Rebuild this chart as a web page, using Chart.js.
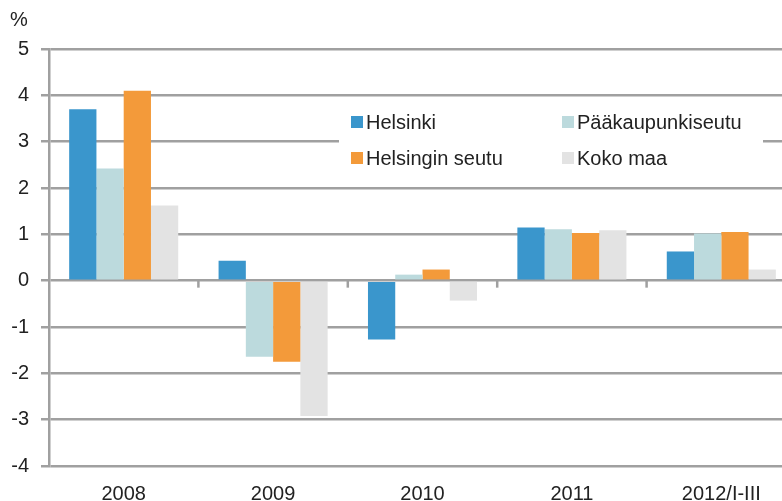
<!DOCTYPE html>
<html>
<head>
<meta charset="utf-8">
<script src="https://cdn.jsdelivr.net/npm/chart.js@4/dist/chart.umd.min.js"></script>
<style>
  html, body { margin: 0; padding: 0; background: #fff; overflow: hidden; }
  #wrap { width: 782px; height: 501px; overflow: hidden; }
</style>
</head>
<body>
<div id="wrap"><canvas id="bar-chart" width="796" height="501"></canvas></div>
<script>
// periods on the x axis
var periods = ["2008", "2009", "2010", "2011", "2012/I-III"];

// annual change, %
var helsinki = [3.7, 0.43, -1.27, 1.15, 0.63];
var paakaupunkiseutu = [2.42, -1.64, 0.13, 1.11, 1.02];
var helsinginSeutu = [4.1, -1.75, 0.24, 1.03, 1.05];
var kokoMaa = [1.62, -2.92, -0.43, 1.09, 0.24];

var seriesNames = ["Helsinki", "Pääkaupunkiseutu", "Helsingin seutu", "Koko maa"];
var seriesColors = ["#3a96cc", "#bcdadd", "#f39a3a", "#e3e3e3"];

var yTicks = [-4, -3, -2, -1, 0, 1, 2, 3, 4, 5];

var FONT = "'Liberation Sans', Arial, sans-serif";
var GRID = "#a0a0a0";
var TEXT = "#222222";

document.addEventListener("DOMContentLoaded", function () {
    var ctx = document.getElementById("bar-chart").getContext("2d");

    var allSeries = [helsinki, paakaupunkiseutu, helsinginSeutu, kokoMaa];
    var datasets = allSeries.map(function (values, i) {
        return {
            label: seriesNames[i],
            data: values,
            backgroundColor: seriesColors[i],
            borderWidth: 0,
            categoryPercentage: 0.73,
            barPercentage: 1.0
        };
    });

    // "%" unit, tick marks on the zero line and the boxed legend
    var extras = {
        id: "extras",
        afterDatasetsDraw: function (chart) {
            var c = chart.ctx;
            var area = chart.chartArea;
            var y = chart.scales.y;
            var zero = y.getPixelForValue(0);

            c.save();
            // ticks between categories on the zero line
            c.strokeStyle = GRID;
            c.lineWidth = 2.5;
            var step = (area.right - area.left) / periods.length;
            for (var k = 1; k <= periods.length; k++) {
                var tx = area.left + step * k;
                c.beginPath();
                c.moveTo(tx, zero);
                c.lineTo(tx, zero + 7);
                c.stroke();
            }

            // unit label
            c.fillStyle = TEXT;
            c.font = "20px " + FONT;
            c.textAlign = "left";
            c.textBaseline = "middle";
            c.fillText("%", 10, 20);

            // legend box
            c.fillStyle = "#ffffff";
            c.fillRect(339, 100, 424, 86);
            var cols = [351, 562];
            var rows = [122, 158];
            chart.data.datasets.forEach(function (ds, i) {
                var lx = cols[i % 2];
                var ly = rows[Math.floor(i / 2)];
                c.fillStyle = ds.backgroundColor;
                c.fillRect(lx, ly - 6, 12, 12);
                c.fillStyle = TEXT;
                c.font = "20px " + FONT;
                c.textAlign = "left";
                c.textBaseline = "middle";
                c.fillText(ds.label, lx + 15, ly + 1);
            });
            c.restore();
        }
    };

    new Chart(ctx, {
        type: "bar",
        data: { labels: periods, datasets: datasets },
        plugins: [extras],
        options: {
            responsive: false,
            animation: false,
            devicePixelRatio: 1,
            layout: { padding: { top: 49, right: 0, bottom: 0, left: 0 } },
            plugins: {
                legend: { display: false },
                tooltip: { enabled: false }
            },
            scales: {
                x: {
                    grid: { display: false },
                    border: { display: false },
                    ticks: {
                        color: TEXT,
                        font: { family: FONT, size: 20 },
                        padding: 8,
                        maxRotation: 0,
                        autoSkip: false
                    },
                    afterFit: function (scale) { scale.height = 35; }
                },
                y: {
                    min: -4,
                    max: 5,
                    afterBuildTicks: function (scale) {
                        scale.ticks = yTicks.map(function (v) { return { value: v }; });
                    },
                    grid: {
                        color: GRID,
                        lineWidth: 2.5,
                        tickLength: 8,
                        drawTicks: true
                    },
                    border: { display: true, color: GRID, width: 2.5 },
                    ticks: {
                        color: TEXT,
                        font: { family: FONT, size: 20 },
                        padding: 12
                    },
                    afterFit: function (scale) { scale.width = 49; }
                }
            }
        }
    });
});
</script>
</body>
</html>
